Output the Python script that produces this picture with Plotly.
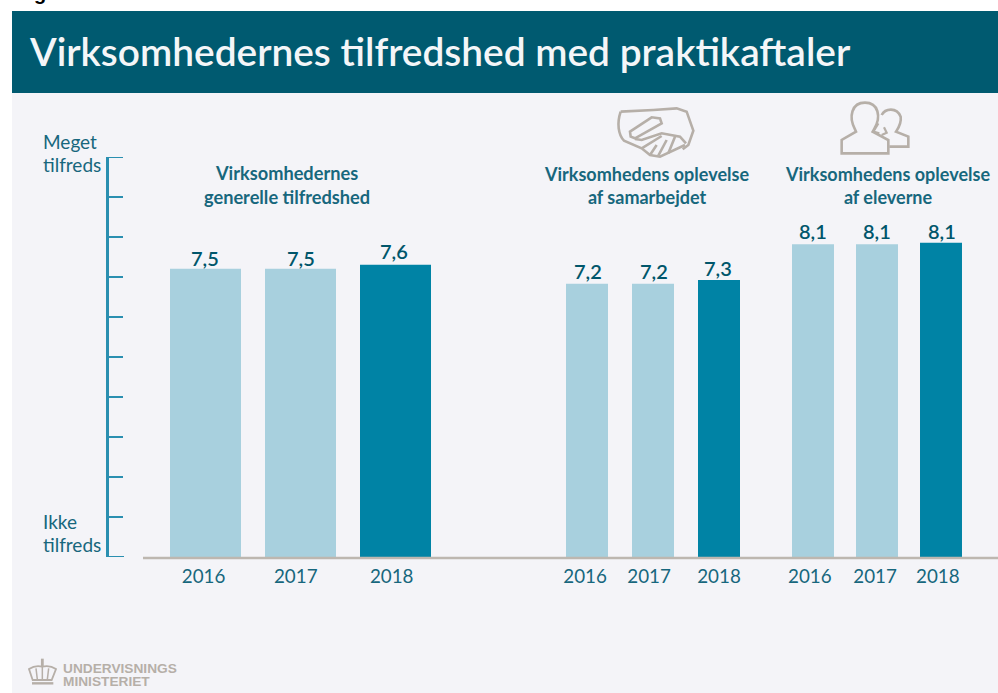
import plotly.graph_objects as go

W, H = 998, 693

# ---- data ----
years = ["2016", "2017", "2018"]
general = [7.5, 7.5, 7.6]
general_labels = ["7,5", "7,5", "7,6"]
cooperation = [7.2, 7.2, 7.3]
cooperation_labels = ["7,2", "7,2", "7,3"]
students = [8.1, 8.1, 8.14]
students_labels = ["8,1", "8,1", "8,1"]
scale_ticks = list(range(11))

title = "Virksomhedernes tilfredshed med praktikaftaler"
panel_titles = [
    "Virksomhedernes<br>generelle tilfredshed",
    "Virksomhedens oplevelse<br>af samarbejdet",
    "Virksomhedens oplevelse<br>af eleverne",
]

# ---- styles ----
LIGHT = "#a8d0de"
DARK = "#0083a5"
HEAD = "#005a70"
BG = "#f4f4f8"
TXT = "#17677d"
NUM = "#00566b"
AX = "#2a8fb0"
GREY = "#bdb7b0"
ICON = "#b6afa8"
FONT = "Lato"


def fx(x):
    return x / W


def fy(y):
    return 1 - y / H


def path(pts):
    out = []
    for t in pts:
        if isinstance(t, str):
            out.append(t)
        else:
            out.append(f"{fx(t[0]):.5f},{fy(t[1]):.5f}")
    return " ".join(out)


def rect(x0, y0, x1, y1, color):
    return dict(type="rect", xref="paper", yref="paper", x0=fx(x0), x1=fx(x1),
                y0=fy(y1), y1=fy(y0), fillcolor=color, line_width=0, layer="below")


def icon(tokens, width=2.6, color=ICON):
    return dict(type="path", xref="paper", yref="paper", path=path(tokens),
                line=dict(color=color, width=width), layer="above")


def z2(x, y):
    return (520 + x / 3, 90 + y / 3)


def z3(x, y):
    return (x / 3, 490 + y / 3)


fig = go.Figure()

PLOT_TOP, PLOT_BOTTOM = 157, 557
dom = [fy(PLOT_BOTTOM), fy(PLOT_TOP)]
value_notes = []


def panel(values, labels, idx, px0, px1, gap, ymax, tick_pos, lift, nudge):
    sfx = "" if idx == 1 else str(idx)
    fig.add_trace(go.Bar(
        x=[0, 1, 2], y=values, width=1 - gap,
        marker=dict(color=[LIGHT, LIGHT, DARK], line_width=0),
        xaxis=f"x{sfx}", yaxis=f"y{sfx}", showlegend=False, hoverinfo="skip",
    ))
    for i, (v, lab) in enumerate(zip(values, labels)):
        value_notes.append(dict(
            x=i, y=v, xref=f"x{sfx}", yref=f"y{sfx}", text=lab, showarrow=False,
            xanchor="center", yanchor="middle", yshift=lift[i], xshift=nudge[i],
            font=dict(family=FONT, size=20, color=NUM, weight=600)))
    fig.update_layout({
        f"xaxis{sfx}": dict(
            domain=[fx(px0), fx(px1)], range=[-0.5, 2.5], anchor=f"y{sfx}",
            tickmode="array", tickvals=tick_pos, ticktext=years, showgrid=False,
            zeroline=False, showline=False, ticks="", ticklabelstandoff=6,
            tickfont=dict(family=FONT, size=18.8, color=TXT)),
        f"yaxis{sfx}": dict(domain=dom, range=[0, ymax], anchor=f"x{sfx}",
                            visible=False),
    })


panel(general, general_labels, 1, 158, 443, 0.2526, 400 / 38.45, [-0.02, 0.95, 1.96],
      [11, 11, 14], [-1, 0, -2])
panel(cooperation, cooperation_labels, 2, 554, 752, 0.3636, 400 / 37.95, [-0.03, 0.94, 2.0],
      [13, 13, 12], [1, 1, -1])
panel(students, students_labels, 3, 781, 973, 0.344, 400 / 38.6, [-0.05, 0.97, 1.95],
      [13.5, 13.5, 12], [0, 0, 1])

# Left satisfaction scale
fig.add_trace(go.Scatter(x=[0] * len(scale_ticks), y=scale_ticks, xaxis="x", yaxis="y4",
                         mode="markers", marker=dict(opacity=0), showlegend=False,
                         hoverinfo="skip"))

fig.update_layout(
    yaxis4=dict(domain=dom, range=[0, 10], overlaying="y", anchor="free", position=fx(107),
                side="left", tickmode="array", tickvals=scale_ticks, showticklabels=False,
                ticks="inside", ticklen=14, tickwidth=2, tickcolor=AX,
                showline=True, linewidth=2.5, linecolor=AX, showgrid=False, zeroline=False),
)

shapes = [
    rect(12, 93, 998, 693, BG),
    rect(12, 11, 998, 93, HEAD),
    dict(type="line", xref="paper", yref="paper", x0=fx(143), x1=fx(998),
         y0=fy(558), y1=fy(558), line=dict(color=GREY, width=2.5), layer="above"),
    # end ticks of the scale (plotly drops ticks on the range ends)
    dict(type="line", xref="paper", yref="y4", x0=fx(106), x1=fx(123),
         y0=scale_ticks[-1], y1=scale_ticks[-1], line=dict(color=AX, width=2)),
    dict(type="line", xref="paper", yref="y4", x0=fx(106), x1=fx(124),
         y0=scale_ticks[0], y1=scale_ticks[0], line=dict(color=AX, width=2)),
    # handshake icon
    icon(["M", z2(302, 65), "L", z2(400, 60), "L", z2(470, 55), "L", z2(500, 65), "L", z2(520, 122),
          "L", z2(505, 165), "L", z2(488, 178)]),
    icon(["M", z2(302, 65), "C", z2(290, 100), z2(295, 135), z2(312, 152), "L", z2(365, 175),
          "L", z2(390, 195), "L", z2(420, 200), "L", z2(495, 165)]),
    icon(["M", z2(330, 125), "L", z2(395, 82), "L", z2(420, 85), "L", z2(425, 100), "L", z2(345, 145),
          "L", z2(332, 140), "Z"]),
    icon(["M", z2(345, 147), "L", z2(365, 150), "L", z2(425, 130), "L", z2(480, 140), "L", z2(498, 160)]),
    icon(["M", z2(365, 175), "L", z2(425, 138), "M", z2(390, 195), "L", z2(410, 165),
          "M", z2(415, 197), "L", z2(440, 150), "M", z2(445, 190), "L", z2(465, 140)]),
    # people icon
    icon(["M", z2(1005, 118), "C", z2(985, 80), z2(995, 38), z2(1035, 38),
          "C", z2(1075, 38), z2(1085, 80), z2(1062, 118), "L", z2(1058, 125),
          "L", z2(1105, 150), "L", z2(1105, 190), "L", z2(965, 190), "L", z2(965, 150),
          "L", z2(1008, 125), "Z"]),
    icon(["M", z2(1085, 75), "C", z2(1095, 55), z2(1130, 50), z2(1142, 80),
          "C", z2(1145, 100), z2(1135, 115), z2(1128, 125), "L", z2(1165, 140),
          "L", z2(1165, 170), "L", z2(1108, 170)]),
    icon(["M", z2(1075, 100), "L", z2(1060, 125), "L", z2(1078, 130), "M", z2(1092, 112), "L", z2(1100, 128),
          "L", z2(1085, 135)], width=2.2),
    # ministry crown
    icon(["M", z3(98, 570), "L", z3(87, 537), "C", z3(105, 525), z3(120, 528), z3(127, 530),
          "C", z3(135, 528), z3(150, 525), z3(168, 537), "L", z3(155, 570), "Z"], width=1.8),
    icon(["M", z3(112, 568), "L", z3(108, 535), "M", z3(127, 568), "L", z3(127, 530), "M", z3(142, 568),
          "L", z3(146, 535)], width=1.5),
    icon(["M", z3(96, 580), "L", z3(160, 580)], width=2.4),
    icon(["M", z3(127, 506), "L", z3(127, 528)], width=2.8),
]


def note(text, x, y, size, color, anchor="center", xanchor="center", weight=None, family=FONT):
    f = dict(family=family, size=size, color=color)
    if weight:
        f["weight"] = weight
    return dict(text=text, xref="paper", yref="paper", x=fx(x), y=fy(y), showarrow=False,
                xanchor=xanchor, yanchor="middle", align=anchor, font=f)


annotations = [
    note("g", 32, -7, 20, "#000000", "left", "left", 700, "Liberation Sans"),
    note(title, 27, 51, 38.85, "#f4f6f8", "left", "left", 600),
    note(panel_titles[0], 287, 185, 18.2, TXT, weight=700),
    note(panel_titles[1], 646, 185, 18, TXT, weight=700),
    note(panel_titles[2], 887.5, 185, 18, TXT, weight=700),
    note("Meget", 41, 141, 19, TXT, "left", "left"),
    note("tilfreds", 41, 164, 19, TXT, "left", "left"),
    note("Ikke", 41, 521, 19, TXT, "left", "left"),
    note("tilfreds", 41, 544, 19, TXT, "left", "left"),
    note("UNDERVISNINGS", 61, 668, 13.7, ICON, "left", "left", 700, "Liberation Sans"),
    note("MINISTERIET", 61, 681, 13.7, ICON, "left", "left", 700, "Liberation Sans"),
] + value_notes

fig.update_layout(
    width=W, height=H,
    margin=dict(l=0, r=0, t=0, b=0),
    paper_bgcolor="#ffffff",
    plot_bgcolor="rgba(0,0,0,0)",
    shapes=shapes,
    annotations=annotations,
    showlegend=False,
)

fig.write_html("out.html", config={"displayModeBar": False},
               post_script="document.body.style.margin='0';document.body.style.overflow='hidden';")
